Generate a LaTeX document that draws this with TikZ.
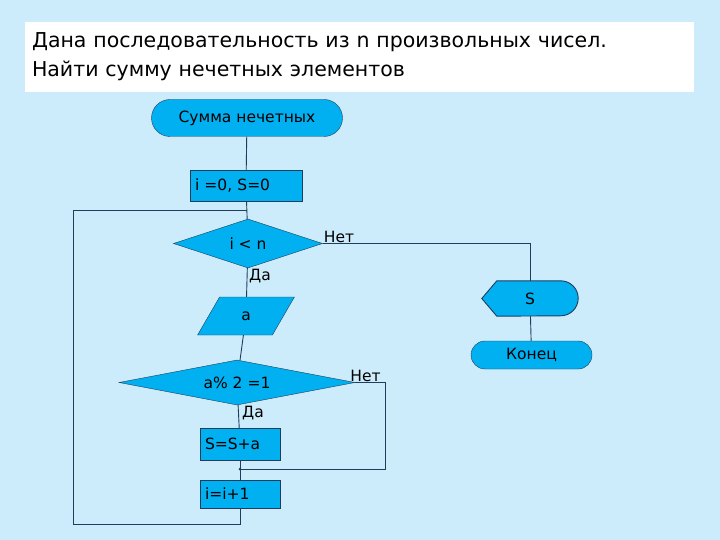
\documentclass[tikz,border=0pt]{standalone}
\usepackage{fontspec}
\setmainfont{DejaVu Sans}
\usetikzlibrary{calc, backgrounds, shapes.geometric, shapes.misc, positioning}
\definecolor{bgblue}{RGB}{204,236,252}
\definecolor{boxblue}{RGB}{0,176,240}
\definecolor{edgeblue}{RGB}{32,62,92}
\tikzset{
    termnode/.style = {draw=edgeblue, fill=boxblue, rounded rectangle, inner sep=0em,
      node distance=0em, font=\fontsize{15.5}{18}\selectfont},
    procnode/.style = {draw=edgeblue, fill=boxblue, rectangle, inner xsep=5pt, inner ysep=0pt,
      text width=#1, align=left, node distance=0em, font=\fontsize{15.5}{18}\selectfont},
    condnode/.style = {draw=edgeblue, fill=boxblue, diamond, inner sep=0em,
      node distance=0em, font=\fontsize{15.5}{18}\selectfont},
    ionode/.style = {draw=edgeblue, fill=boxblue, trapezium, trapezium left angle=66,
      trapezium right angle=114, trapezium stretches=true, inner sep=0em,
      node distance=0em, font=\fontsize{15.5}{18}\selectfont},
    textnode/.style = {draw=none, fill=none, rectangle, inner sep=1pt,
      font=\fontsize{15.5}{18}\selectfont},
    titlenode/.style = {fill=white, rectangle, inner xsep=7pt, text width=655pt, align=left,
      minimum height=70pt, font=\fontsize{20.5}{29}\selectfont},
    line/.style = {edgeblue, line width=0.9pt}
}

\begin{document}
\begin{tikzpicture}[x=1pt, y=-1pt]
\begin{scope}[on background layer]
\fill[bgblue] (0,0) rectangle (720,540);
\end{scope}
\useasboundingbox (0,0) rectangle (720,540);

\node [titlenode, name=title] at (359.5,57) {Дана последовательность из n произвольных чисел.\\Найти сумму нечетных элементов};

% main column
\node [termnode, name=start, minimum width=191pt, minimum height=37pt] at (247,118) {Сумма нечетных};
\node [procnode=102pt, name=init, below of=start, yshift=-67.5pt, xshift=-1pt, minimum height=31pt] {i =0, S=0};
\node [condnode, name=cond1, aspect=3, below of=init, yshift=-58pt, xshift=2pt, minimum width=149pt, minimum height=49pt] {i < n};
\node [ionode, name=inA, below of=cond1, yshift=-72.5pt, xshift=-2pt, minimum width=97pt, minimum height=38pt] {a};
\node [condnode, name=cond2, aspect=5.2, below of=inA, yshift=-66.5pt, xshift=-9pt, minimum width=236pt, minimum height=45pt] {a\% 2 =1};
\node [procnode=70pt, name=add, below of=cond2, yshift=-61.5pt, xshift=3pt, minimum height=32pt] {S=S+a};
\node [procnode=70pt, name=inc, below of=add, yshift=-50pt, minimum height=28pt] {i=i+1};

% output branch
\node [textnode, name=outS, minimum width=96pt, minimum height=35pt, inner sep=0pt] at (530,298.5) {S};
\node [termnode, name=finish, below of=outS, yshift=-56.5pt, xshift=1.5pt, minimum width=121pt, minimum height=28pt] {Конец};
\begin{scope}[on background layer]
\draw[line, fill=boxblue] (outS.west) -- ([xshift=15pt]outS.north west)
  -- ([xshift=-17.5pt]outS.north east) arc[start angle=90, end angle=-90, radius=17.5pt]
  -- ([xshift=15pt]outS.south west) -- cycle;
\end{scope}

% connectors
\draw[line] (start) -- (init);
\draw[line] (init) -- (cond1);
\draw[line] (cond1) -- (inA);
\draw[line] (inA) -- (cond2);
\draw[line] (cond2) -- (add);
\draw[line] (add) -- (inc);
\draw[line] (cond1.east) -| (outS.north);
\draw[line] (outS) -- (finish);

\coordinate (join) at ($(add.south)!0.45!(inc.north)$);
\draw[line] (cond2.east) -- ++(30pt,0) |- (join);
\fill[edgeblue] (join) circle (1.5pt);

\coordinate (loopTop) at ($(init.south)!0.55!(cond1.north)$);
\coordinate (loopL) at (73,524);
\draw[line] (inc.south) |- (loopL) |- (loopTop);

% labels
\node [textnode, name=no1, anchor=south west] at (cond1.east) {Нет};
\node [textnode, name=yes1, anchor=north west] at (cond1.south) {Да};
\node [textnode, name=no2, anchor=south west, xshift=-6pt] at (cond2.east) {Нет};
\node [textnode, name=yes2, anchor=north west, xshift=4pt] at (cond2.south) {Да};
\end{tikzpicture}
\end{document}
